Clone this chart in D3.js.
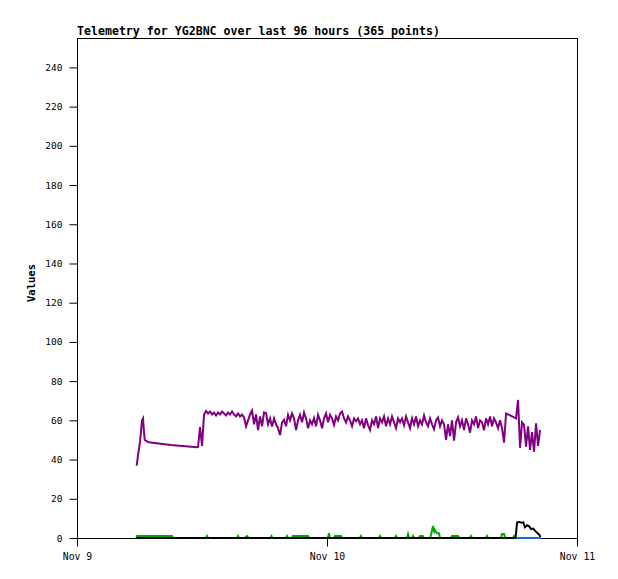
<!DOCTYPE html>
<html>
<head>
<meta charset="utf-8">
<script src="https://cdn.jsdelivr.net/npm/d3@7"></script>
<style>
  html, body { margin: 0; padding: 0; background: #fff; }
  svg { display: block; }
  text { font-family: "DejaVu Sans Mono", "Liberation Mono", monospace; fill: #000; }
</style>
</head>
<body>
<svg id="chart" width="618" height="579"></svg>
<script>
// ---------- DATA ----------
const titleText = "Telemetry for YG2BNC over last 96 hours (365 points)";
const yLabel = "Values";
const xTickDates = ["2023-11-09T00:00", "2023-11-10T00:00", "2023-11-11T00:00"];
const yTickValues = [0, 20, 40, 60, 80, 100, 120, 140, 160, 180, 200, 220, 240];

// purple series: early sparse points (hours since Nov 9 00:00)
const purpleEarlyHours = [5.73, 5.86, 6.05, 6.24, 6.34, 6.40, 6.50, 6.88, 9.0, 11.52];
const purpleEarlyValues = [36.9, 42.3, 49, 60, 61, 56, 50, 48.8, 47.4, 46.3];
// purple series: dense regular samples
const purpleDenseStart = 11.62;   // hours
const purpleDenseStep = 0.192;    // hours between samples
const purpleDenseValues = [
  46.5, 56.5, 47, 63, 64.8, 63.5, 64.5, 63, 64, 62.5,
  64, 63, 64.5, 63.5, 62.5, 64, 63, 64.5, 63, 62,
  63.5, 62, 63, 61.5, 57, 60, 63, 65, 58, 63,
  55, 62, 57, 64,
  63.6, 58, 61, 56.8, 61, 58, 56, 52.5, 59, 60.3,
  57, 62.8, 60, 63.6, 61, 55, 60, 62.8, 59, 64,
  61, 56, 60, 58, 61.1, 57, 62.8, 60, 56, 61,
  63.6, 59, 62.8, 61, 57.7,
  62, 60, 63.5, 64.5, 61, 59, 62, 60, 57, 61,
  59.5, 61, 58, 60, 56, 61, 57.5, 55, 60, 58,
  62, 56, 61, 59, 62, 57, 61, 58, 62, 59,
  56, 61, 59,
  61, 57.5, 62, 59, 56, 61, 58, 62, 57, 60,
  58, 62.5, 59, 57, 61, 58, 55.5, 60, 61.5, 57,
  60, 58,
  50, 58, 52, 60, 49.7, 59,
  61.5, 57, 60, 55, 61, 58, 53.7, 60, 58, 62,
  56, 60, 59, 55, 61, 58, 62, 57, 61, 59,
  56, 60,
  56, 48.6, 63.5, 63, 62.5, 62, 61.5, 61,
  70.4, 46, 59, 57.7, 46.6, 57, 44.9, 54, 44, 58.5,
  47, 55
];

// green series
const greenHours = [5.70, 5.76, 9.12, 9.20,
  12.38, 12.48, 12.58, 15.36, 15.46, 15.56, 16.10, 16.32, 16.50,
  18.57, 18.67, 18.77, 20.06, 20.16, 20.26, 20.64, 20.74, 21.0, 21.41, 21.8, 22.18, 22.28,
  24.09, 24.19, 24.29, 24.67, 24.77, 25.1, 25.34, 25.44, 27.16, 27.26, 27.36,
  28.99, 29.09, 29.19, 30.52, 30.62, 30.72, 31.68, 31.78, 31.88, 32.16, 32.26, 32.36,
  32.83, 32.93, 33.2, 33.30,
  33.90, 33.98, 34.18, 34.30, 34.37, 34.56, 34.75, 34.85,
  35.90, 36.0, 36.3, 36.58, 36.68, 37.72, 37.82, 37.92, 39.26, 39.36, 39.46,
  40.70, 40.8, 41.0, 41.10, 41.85, 41.95, 42.05];
const greenValues = [0, 1, 1, 0,
  0, 1, 0, 0, 1, 0, 0, 1, 0,
  0, 1, 0, 0, 1, 0, 0, 1, 1, 1, 1, 1, 0,
  0, 2.5, 0, 0, 1, 1, 1, 0, 0, 1, 0,
  0, 1, 0, 0, 1, 0, 0, 2, 0, 0, 1, 0,
  0, 1, 1, 0,
  0, 1.5, 6.1, 3.2, 4, 2.4, 2.4, 0,
  0, 1, 1, 1, 0, 0, 1, 0, 0, 1, 0,
  0, 2, 2, 0, 0, 1, 0];

// blue series
const blueHours = [42.10, 44.50];
const blueValues = [0, 0];

// black series
const blackHours = [5.73, 42.10, 42.25, 42.45, 42.65, 42.85, 43.0, 43.2, 43.4, 43.6, 43.8, 44.0, 44.2, 44.4, 44.5];
const blackValues = [0, 0, 8, 8.2, 7.8, 8, 5.5, 6.5, 6, 4.5, 4.8, 3.5, 2.5, 1.5, 0.5];

// ---------- CHART ----------
const svg = d3.select("#chart");
const margin = {left: 77, right: 41, top: 38, bottom: 41};
const W = 618, H = 579;
const base = new Date(xTickDates[0]);
const hToDate = h => new Date(base.getTime() + h * 3600 * 1000);

const x = d3.scaleTime()
  .domain([new Date(xTickDates[0]), new Date(xTickDates[2])])
  .range([margin.left, W - margin.right]);
const y = d3.scaleLinear().domain([0, 255]).range([H - margin.bottom, margin.top]);

const line = d3.line().x(d => x(d[0])).y(d => y(d[1]));

const purple = purpleEarlyHours.map((h, i) => [hToDate(h), purpleEarlyValues[i]])
  .concat(purpleDenseValues.map((v, i) => [hToDate(purpleDenseStart + i * purpleDenseStep), v]));
const green = greenHours.map((h, i) => [hToDate(h), greenValues[i]]);
const blue = blueHours.map((h, i) => [hToDate(h), blueValues[i]]);
const black = blackHours.map((h, i) => [hToDate(h), blackValues[i]]);

// frame
svg.append("rect")
  .attr("x", margin.left + 0.5).attr("y", margin.top + 0.5)
  .attr("width", W - margin.left - margin.right)
  .attr("height", H - margin.top - margin.bottom)
  .attr("fill", "none").attr("stroke", "#000").attr("stroke-width", 1);

// y axis
const yAxis = d3.axisLeft(y).tickValues(yTickValues).tickSize(8).tickPadding(7).tickFormat(d3.format("d"));
const gy = svg.append("g").attr("transform", `translate(${margin.left + 0.5},0)`).call(yAxis);
gy.select(".domain").remove();
gy.selectAll("text").style("font-size", "9.5px").attr("font-family", null);

// x axis
const xAxis = d3.axisBottom(x).tickValues(xTickDates.map(d => new Date(d)))
  .tickSize(8).tickPadding(7).tickFormat(d3.timeFormat("%b %-d"));
const gx = svg.append("g").attr("transform", `translate(0,${H - margin.bottom + 0.5})`).call(xAxis);
gx.select(".domain").remove();
gx.selectAll("text").style("font-size", "9.8px").attr("font-family", null);

// series
const drawLine = (data, color) => svg.append("path").datum(data)
  .attr("d", line).attr("fill", "none").attr("stroke", color)
  .attr("stroke-width", 2).attr("stroke-linejoin", "miter");

drawLine(green, "#00a800");
drawLine(blue, "#1a6fc4");
drawLine(black, "#000");
drawLine(purple, "#800080");

// title
svg.append("text").attr("x", margin.left).attr("y", 34.5)
  .style("font-size", "11.6px").style("font-weight", "bold").text(titleText);

// y label
svg.append("text")
  .attr("transform", `translate(35,283) rotate(-90)`)
  .attr("text-anchor", "middle")
  .style("font-size", "10.5px").style("font-weight", "bold").text(yLabel);
</script>
</body>
</html>
